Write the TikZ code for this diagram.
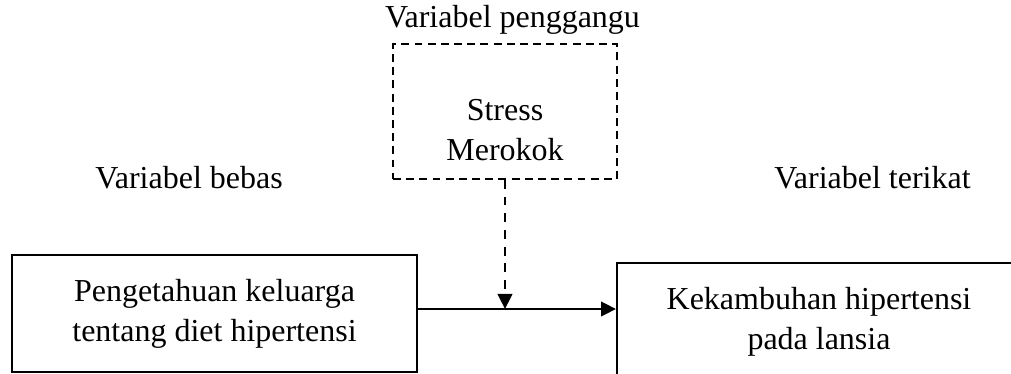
\documentclass[tikz,border=0pt]{standalone}
\usepackage{fontspec}
\setmainfont{Liberation Serif}
\usetikzlibrary{arrows.meta,positioning}
\newcommand{\labelsize}{\fontsize{18.2}{22.6}\selectfont}
\tikzset{
 every node/.append style={font=\labelsize,align=center},
 varbox/.style={draw,line width=1.1pt,inner sep=0pt},
 confbox/.style={varbox,dash pattern=on 4.5pt off 3pt},
 caption/.style={inner sep=1pt},
 flow/.style={-{Triangle[length=3mm,width=2.9mm]},line width=1.3pt},
 moderate/.style={flow,dash pattern=on 5pt off 4.5pt},
}
\begin{document}
\begin{tikzpicture}

\useasboundingbox (0,0) rectangle (20.22,-7.48);
\clip (0,0) rectangle (20.22,-7.48);
\node[varbox,minimum width=8.1cm,minimum height=2.34cm] (knowledge) at (4.29,-6.27) {Pengetahuan keluarga\\tentang diet hipertensi};
\node[varbox,minimum width=8.3cm,minimum height=3cm,anchor=north west] (relapse) at (12.32,-5.24) {};
\node (relapsetext) at (16.38,-6.43) {Kekambuhan hipertensi\\pada lansia};
\node[confbox,minimum width=4.48cm,minimum height=2.7cm] (confound) at (10.1,-2.23) {};
\node (confoundtext) at (10.1,-2.6) {Stress\\Merokok};
\node[caption] (confcap) at (10.25,-0.39) {Variabel penggangu};
\node[caption] (indepcap) at (3.78,-3.55) {Variabel bebas};
\node[caption] (depcap) at (17.45,-3.55) {Variabel terikat};
\coordinate (join) at (confound.south |- 0,-6.18);
\draw[moderate] (confound.south) -- (join);
\draw[flow] (knowledge.east |- join) -- (relapse.west |- join);

\end{tikzpicture}
\end{document}
